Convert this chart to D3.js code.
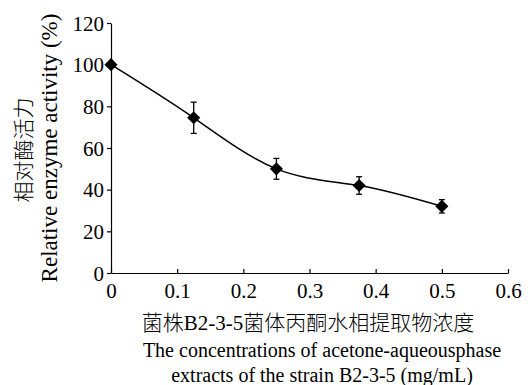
<!DOCTYPE html>
<html>
<head>
<meta charset="utf-8">
<script type="text/javascript" src="https://cdnjs.cloudflare.com/ajax/libs/d3/7.8.5/d3.min.js"></script>
<style>
  body { margin: 0; background: #fff; }
  svg text { font-family: "Liberation Serif", "Noto Sans CJK SC", serif; fill: #000; }
  .cjk { font-weight: 300; }
</style>
</head>
<body>
<div id="viz"></div>
<script type="text/javascript">

// concentration (mg/mL) and relative activity (%)
var concentrations = [0, 0.125, 0.25, 0.375, 0.5];
var activity = [100, 74.5, 50, 42, 32];
var errors = [0, 7.5, 5, 4.2, 3.2];
var xTicks = [0, 0.1, 0.2, 0.3, 0.4, 0.5, 0.6];
var yTicks = [0, 20, 40, 60, 80, 100, 120];

var W = 528, H = 385;
var svg = d3.select("#viz")
    .append("svg")
    .attr("width", W)
    .attr("height", H);

var x = d3.scaleLinear().domain([0, 0.6]).range([111, 508]);
var y = d3.scaleLinear().domain([0, 120]).range([273, 23]);

// axes
var xAxis = svg.append("g")
    .attr("transform", "translate(0," + y(0) + ")")
    .call(d3.axisBottom(x).tickValues(xTicks).tickSizeInner(-4).tickSizeOuter(0)
        .tickPadding(8).tickFormat(d3.format("")));
var yAxis = svg.append("g")
    .attr("transform", "translate(" + x(0) + ",0)")
    .call(d3.axisLeft(y).tickValues(yTicks).tickSizeInner(4).tickSizeOuter(0)
        .tickPadding(3));

svg.selectAll("g text")
    .style("font-size", "21px")
    .style("font-family", "'Liberation Serif', serif");

svg.selectAll("path.domain, g line").attr("stroke", "#000").attr("stroke-width", 1.2);
xAxis.selectAll("text").attr("dy", "0.8em");
yAxis.selectAll("text").attr("dy", "0.34em");

// smooth curve
var pts = concentrations.map((c, i) => [c, activity[i]]);
var line = d3.line()
    .x(d => x(d[0]))
    .y(d => y(d[1]))
    .curve(d3.curveNatural);
svg.append("path")
    .datum(pts)
    .attr("d", line)
    .attr("fill", "none")
    .attr("stroke", "#000")
    .attr("stroke-width", 1.5);

// error bars
var eb = svg.append("g").attr("stroke", "#000").attr("stroke-width", 1.3);
concentrations.forEach(function(c, i) {
    if (!errors[i]) return;
    var cx = x(c), top = y(activity[i] + errors[i]), bot = y(activity[i] - errors[i]);
    eb.append("line").attr("x1", cx).attr("x2", cx).attr("y1", top).attr("y2", bot);
    eb.append("line").attr("x1", cx - 3).attr("x2", cx + 3).attr("y1", top).attr("y2", top);
    eb.append("line").attr("x1", cx - 3).attr("x2", cx + 3).attr("y1", bot).attr("y2", bot);
});

// diamond markers
svg.selectAll(".pt")
    .data(pts)
    .enter().append("path")
    .attr("class", "pt")
    .attr("d", d3.symbol().type(d3.symbolDiamond2).size(110))
    .attr("transform", d => "translate(" + x(d[0]) + "," + y(d[1]) + ")")
    .attr("fill", "#000");

// axis titles
svg.append("text")
    .attr("class", "cjk")
    .attr("x", 308).attr("y", 330)
    .attr("text-anchor", "middle")
    .style("font-size", "21px")
    .text("菌株B2-3-5菌体丙酮水相提取物浓度");
svg.append("text")
    .attr("x", 322).attr("y", 357)
    .attr("text-anchor", "middle")
    .style("font-size", "20px")
    .text("The concentrations of acetone-aqueousphase");
svg.append("text")
    .attr("x", 322).attr("y", 382)
    .attr("text-anchor", "middle")
    .style("font-size", "20px")
    .text("extracts of the strain B2-3-5 (mg/mL)");

svg.append("text")
    .attr("class", "cjk")
    .attr("transform", "translate(31,150) rotate(-90)")
    .attr("text-anchor", "middle")
    .style("font-size", "21px")
    .text("相对酶活力");
svg.append("text")
    .attr("transform", "translate(57,148) rotate(-90)")
    .attr("text-anchor", "middle")
    .style("font-size", "23px")
    .text("Relative enzyme activity (%)");

</script>
</body>
</html>
